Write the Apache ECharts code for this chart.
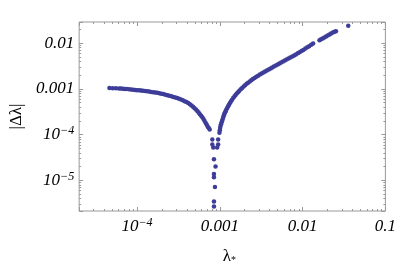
<!DOCTYPE html>
<html><head><meta charset="utf-8">
<script src="https://cdn.jsdelivr.net/npm/echarts@6/dist/echarts.min.js"></script>
<style>html,body{margin:0;padding:0;background:#fff}#c{width:399px;height:270px}</style>
</head><body><div id="c"></div>
<script>
// Axis ranges and tick labels
const xMin = 2.0e-5, xMax = 0.1;
const yMin = 2.15e-6, yMax = 0.029;
const xTickValues = [1e-4, 1e-3, 1e-2, 1e-1];
const xTickLabels = ['10{sup|−4}', '0.001', '0.01', '0.1'];
const yTickValues = [1e-5, 1e-4, 1e-3, 1e-2];
const yTickLabels = ['10{sup|−5}', '10{sup|−4}', '0.001', '0.01'];

// Left branch (lambda < dip)
const lambdaLeft = [4.64e-5,5.08e-5,5.55e-5,6.05e-5,6.4e-5,6.75e-5,7.1e-5,7.5e-5,8.0e-5,8.5e-5,9.0e-5,9.5e-5,1.0e-4,1.06e-4,1.12e-4,1.18e-4,1.25e-4,1.32e-4,1.4e-4,1.48e-4,1.57e-4,1.66e-4,1.76e-4,1.86e-4,1.97e-4,2.08e-4,2.2e-4,2.33e-4,2.46e-4,2.6e-4,2.75e-4,2.9e-4,3.05e-4,3.22e-4,3.4e-4,3.58e-4,3.76e-4,3.95e-4,4.15e-4,4.35e-4,4.55e-4,4.75e-4,4.95e-4,5.15e-4,5.35e-4,5.55e-4,5.75e-4,5.95e-4,6.15e-4,6.35e-4,6.55e-4,6.75e-4,6.95e-4,7.15e-4,7.35e-4,7.55e-4];
const deltaLeft = [1.05e-3,1.04e-3,1.035e-3,1.025e-3,1.02e-3,1.01e-3,1.0e-3,9.9e-4,9.8e-4,9.7e-4,9.6e-4,9.5e-4,9.4e-4,9.3e-4,9.2e-4,9.1e-4,9.0e-4,8.9e-4,8.75e-4,8.6e-4,8.5e-4,8.35e-4,8.2e-4,8.0e-4,7.85e-4,7.7e-4,7.5e-4,7.3e-4,7.1e-4,6.9e-4,6.7e-4,6.5e-4,6.3e-4,6.1e-4,5.9e-4,5.65e-4,5.4e-4,5.15e-4,4.9e-4,4.6e-4,4.35e-4,4.1e-4,3.8e-4,3.55e-4,3.3e-4,3.05e-4,2.8e-4,2.6e-4,2.4e-4,2.2e-4,2.0e-4,1.8e-4,1.65e-4,1.5e-4,1.4e-4,1.3e-4];

// Points in the dip
const lambdaDip = [8.12e-4,8.12e-4,8.34e-4,9.55e-4,9.55e-4,9.29e-4,8.5e-4,8.88e-4,8.5e-4,8.5e-4,8.74e-4,8.5e-4,8.5e-4];
const deltaDip = [7.83e-5,6.12e-5,5.28e-5,7.83e-5,6.12e-5,5.28e-5,2.9e-5,2.01e-5,1.39e-5,1.18e-5,7.2e-6,3.45e-6,2.7e-6];

// Right branch (lambda > dip)
const lambdaRight = [9.9e-4,1.0e-3,1.01e-3,1.02e-3,1.035e-3,1.05e-3,1.065e-3,1.08e-3,1.1e-3,1.12e-3,1.14e-3,1.16e-3,1.18e-3,1.2e-3,1.23e-3,1.26e-3,1.29e-3,1.32e-3,1.36e-3,1.4e-3,1.45e-3,1.5e-3,1.55e-3,1.6e-3,1.66e-3,1.72e-3,1.79e-3,1.86e-3,1.94e-3,2.02e-3,2.11e-3,2.2e-3,2.3e-3,2.4e-3,2.51e-3,2.63e-3,2.76e-3,2.9e-3,3.05e-3,3.2e-3,3.36e-3,3.53e-3,3.7e-3,3.9e-3,4.1e-3,4.3e-3,4.5e-3,4.75e-3,5.0e-3,5.25e-3,5.5e-3,5.8e-3,6.1e-3,6.4e-3,6.75e-3,7.1e-3,7.5e-3,7.9e-3,8.3e-3,8.75e-3,9.2e-3,9.7e-3,1.02e-2,1.08e-2,1.14e-2,1.2e-2,1.27e-2,1.34e-2,1.6e-2,1.67e-2,1.75e-2,1.83e-2,1.92e-2,2.01e-2,2.11e-2,2.21e-2,2.32e-2,2.43e-2,2.53e-2,3.56e-2];
const deltaRight = [1.1e-4,1.25e-4,1.4e-4,1.55e-4,1.7e-4,1.85e-4,2.0e-4,2.15e-4,2.4e-4,2.65e-4,2.9e-4,3.1e-4,3.3e-4,3.55e-4,3.85e-4,4.2e-4,4.5e-4,4.85e-4,5.3e-4,5.75e-4,6.3e-4,6.8e-4,7.35e-4,7.9e-4,8.5e-4,9.1e-4,9.8e-4,1.05e-3,1.13e-3,1.21e-3,1.29e-3,1.37e-3,1.46e-3,1.55e-3,1.64e-3,1.74e-3,1.84e-3,1.95e-3,2.06e-3,2.17e-3,2.28e-3,2.4e-3,2.52e-3,2.66e-3,2.8e-3,2.94e-3,3.08e-3,3.25e-3,3.42e-3,3.6e-3,3.78e-3,3.98e-3,4.18e-3,4.4e-3,4.62e-3,4.86e-3,5.12e-3,5.4e-3,5.68e-3,6.0e-3,6.3e-3,6.7e-3,7.1e-3,7.6e-3,8.1e-3,8.6e-3,9.2e-3,9.8e-3,1.16e-2,1.21e-2,1.27e-2,1.33e-2,1.4e-2,1.47e-2,1.54e-2,1.62e-2,1.7e-2,1.77e-2,1.83e-2,2.41e-2];

const frameColor = '#999';
const pointColor = '#3d3d99';
const labelFont = {fontFamily: 'Liberation Serif', fontStyle: 'italic', fontSize: 17, color: '#000',
  rich: {sup: {fontFamily: 'Liberation Serif', fontStyle: 'italic', fontSize: 12, color: '#000', verticalAlign: 'top', lineHeight: 10}}};

function pick(vals, labels, v) {
  for (let i = 0; i < vals.length; i++) if (Math.abs(Math.log10(v) - Math.log10(vals[i])) < 1e-6) return labels[i];
  return '';
}
function axisBase(min, max, pos, showLabel, vals, labels, isX) {
  return {
    type: 'log', logBase: 10, min: min, max: max, position: pos,
    axisLine: {show: false}, splitLine: {show: false}, minorSplitLine: {show: false},
    axisTick: {show: true, inside: true, length: 4, lineStyle: {color: frameColor, width: 1}},
    minorTick: {show: true, splitNumber: 9, length: 2, lineStyle: {color: frameColor, width: 1}},
    axisLabel: Object.assign({show: showLabel, showMinLabel: false, showMaxLabel: isX, margin: isX ? 6 : 5,
      formatter: v => pick(vals, labels, v), lineHeight: 20}, labelFont)
  };
}
const xMain = axisBase(xMin, xMax, 'bottom', true, xTickValues, xTickLabels, true);
xMain.name = 'λ{sub|*}';
xMain.nameLocation = 'middle';
xMain.nameGap = 37;
xMain.nameTextStyle = {fontFamily: 'Liberation Serif', fontSize: 17, color: '#000', padding: [0, 6, 0, 0],
  rich: {sub: {fontFamily: 'Liberation Serif', fontSize: 10, color: '#000', verticalAlign: 'bottom', lineHeight: 14}}};
const yMain = axisBase(yMin, yMax, 'left', true, yTickValues, yTickLabels, false);
yMain.name = '|Δλ|';
yMain.nameLocation = 'middle';
yMain.nameGap = 54;
yMain.nameTextStyle = {fontFamily: 'Liberation Serif', fontSize: 17, color: '#000'};

function toPts(xs, ys) { return xs.map((x, i) => [x, ys[i]]); }
const sym = {type: 'scatter', symbol: 'circle', symbolSize: 4.5, itemStyle: {color: pointColor, opacity: 1}, silent: true, animation: false};

const chart = echarts.init(document.getElementById('c'), null, {renderer: 'canvas'});
chart.setOption({
  animation: false,
  backgroundColor: '#fff',
  grid: {left: 72, top: 22, right: 12, bottom: 53, show: true, borderColor: frameColor, borderWidth: 1, backgroundColor: 'transparent'},
  xAxis: [xMain, axisBase(xMin, xMax, 'top', false, xTickValues, xTickLabels, true)],
  yAxis: [yMain, axisBase(yMin, yMax, 'right', false, yTickValues, yTickLabels, false)],
  series: [
    Object.assign({data: toPts(lambdaLeft, deltaLeft)}, sym),
    Object.assign({data: toPts(lambdaDip, deltaDip)}, sym),
    Object.assign({data: toPts(lambdaRight, deltaRight)}, sym)
  ]
});
</script></body></html>
